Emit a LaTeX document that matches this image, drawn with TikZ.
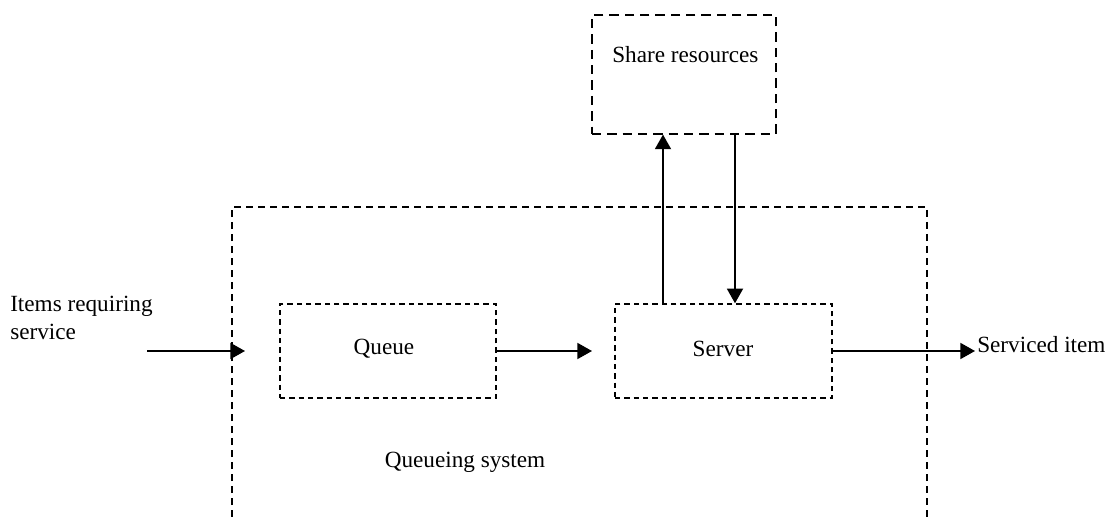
\documentclass[tikz,border=0pt]{standalone}
\usepackage{fontspec}
\setmainfont{Liberation Serif}
\usetikzlibrary{arrows.meta}
\begin{document}
\begin{tikzpicture}[x=0.75pt,y=-0.75pt,
  txt/.style={inner sep=0pt,font=\fontsize{17.4}{20.5}\selectfont},
  boxa/.style={draw,line width=1.1pt,dash pattern=on 7pt off 4.5pt,rectangle,inner sep=0pt},
  boxb/.style={draw,line width=1.1pt,dash pattern=on 4pt off 3pt,rectangle,inner sep=0pt},
  outer/.style={draw,line width=1pt,dash pattern=on 5pt off 4pt},
  arr/.style={line width=1.4pt,-{Triangle[length=11pt,width=12pt]}}]
\useasboundingbox (0,0) rectangle (1111,517);
% outer open box
\draw[outer] (232,517) -- (232,207) -- (927,207) -- (927,517);
% nodes
\node[boxa,minimum width=138pt,minimum height=89pt] (share) at (684,74.5) {};
\node[txt,anchor=west] (sharelbl) at (612,55) {Share resources};
\node[boxb,minimum width=162pt,minimum height=70.5pt] (queue) at (388,351) {};
\node[txt] (queuelbl) at (384,349) {Queue};
\node[boxb,minimum width=162.75pt,minimum height=70.5pt] (server) at (723.5,351) {};
\node[txt] (serverlbl) at (723,349) {Server};
\node[txt,anchor=west,align=left] (items) at (10,318) {Items requiring\\service};
\node[txt,anchor=west] (serviced) at (977,345) {Serviced item};
\node[txt] (qsys) at (465,462) {Queueing system};
% coordinates
\coordinate (in0) at (147,351);
\coordinate (in1) at (245,351);
\coordinate (qs) at (592,351);
\coordinate (out) at (975,351);
\coordinate (upx) at (663,0);
\coordinate (dnx) at (735,0);
% arrows
\draw[arr] (in0) -- (in1);
\draw[arr] (queue.east) -- (qs);
\draw[arr] (server.east) -- (out);
\draw[arr] (server.north -| upx) -- (share.south -| upx);
\draw[arr] (share.south -| dnx) -- (server.north -| dnx);
\end{tikzpicture}
\end{document}
